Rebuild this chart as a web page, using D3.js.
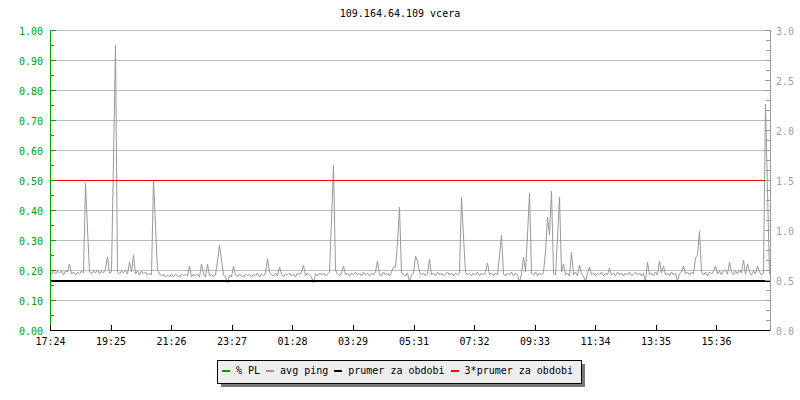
<!DOCTYPE html>
<html><head><meta charset="utf-8">
<script src="https://cdn.jsdelivr.net/npm/d3@7"></script>
<style>
body{margin:0;background:#fff}
svg{display:block}
text{font-family:"DejaVu Sans Mono","Liberation Mono",monospace;font-size:10px}
</style>
</head><body>
<svg id="chart" width="800" height="400"></svg>
<script>
const title = "109.164.64.109 vcera";
const tickLabels = ["17:24","19:25","21:26","23:27","01:28","03:29","05:31","07:32","09:33","11:34","13:35","15:36"];
const tickMinutes = [0,121,242,363,484,605,727,848,969,1090,1211,1332];
const spanMinutes = 1440;
const sampleMinutes = 4;
const leftTicks = [0,0.1,0.2,0.3,0.4,0.5,0.6,0.7,0.8,0.9,1.0];
const rightTicks = [0,0.5,1.0,1.5,2.0,2.5,3.0];
// avg ping (right axis), one sample every 4 minutes
const avgPing = [
0.56,0.59,0.56,0.59,0.57,0.59,0.55,0.59,0.58,0.66, 0.56,0.58,0.55,0.58,0.56,0.59,0.57,1.47,1.01,0.58,
0.56,0.59,0.57,0.60,0.56,0.59,0.57,0.61,0.73,0.57, 0.58,1.71,2.85,0.58,0.56,0.59,0.57,0.60,0.56,0.68,
0.58,0.75,0.56,0.59,0.55,0.59,0.56,0.58,0.55,0.57, 0.55,1.50,1.04,0.60,0.56,0.54,0.56,0.53,0.55,0.53,
0.56,0.53,0.56,0.54,0.53,0.56,0.54,0.56,0.54,0.64, 0.53,0.56,0.54,0.56,0.53,0.66,0.56,0.53,0.66,0.54,
0.56,0.53,0.55,0.69,0.85,0.70,0.55,0.53,0.47,0.55, 0.53,0.64,0.55,0.53,0.56,0.54,0.53,0.56,0.54,0.56,
0.53,0.56,0.54,0.57,0.53,0.56,0.54,0.57,0.71,0.58, 0.55,0.54,0.57,0.54,0.63,0.56,0.53,0.56,0.55,0.57,
0.54,0.56,0.53,0.57,0.55,0.58,0.65,0.54,0.57,0.55, 0.53,0.47,0.56,0.54,0.57,0.55,0.57,0.54,0.56,0.58,
1.09,1.65,0.60,0.56,0.54,0.57,0.64,0.55,0.57,0.54, 0.57,0.55,0.58,0.55,0.57,0.54,0.58,0.55,0.57,0.54,
0.57,0.55,0.58,0.69,0.56,0.54,0.58,0.55,0.57,0.54, 0.58,0.63,0.63,0.87,1.23,0.57,0.55,0.54,0.57,0.48,
0.55,0.57,0.74,0.69,0.58,0.55,0.57,0.54,0.56,0.71, 0.55,0.57,0.54,0.58,0.55,0.57,0.54,0.56,0.58,0.55,
0.57,0.54,0.57,0.55,0.57,1.33,0.93,0.58,0.55,0.57, 0.54,0.57,0.55,0.58,0.54,0.57,0.55,0.58,0.67,0.55,
0.57,0.54,0.57,0.55,0.74,0.95,0.56,0.54,0.57,0.55, 0.58,0.54,0.57,0.55,0.48,0.56,0.73,0.58,0.95,1.37,
0.57,0.55,0.58,0.54,0.57,0.55,0.58,0.78,1.13,0.95, 1.39,0.57,0.55,0.93,1.33,0.58,0.66,0.55,0.57,0.54,
0.78,0.55,0.58,0.54,0.65,0.56,0.54,0.48,0.57,0.63, 0.55,0.57,0.54,0.57,0.55,0.58,0.54,0.57,0.55,0.62,
0.55,0.57,0.54,0.58,0.55,0.57,0.54,0.57,0.55,0.58, 0.54,0.56,0.58,0.55,0.57,0.54,0.57,0.48,0.68,0.55,
0.57,0.54,0.58,0.55,0.69,0.57,0.64,0.55,0.57,0.54, 0.58,0.55,0.57,0.49,0.56,0.58,0.64,0.56,0.58,0.55,
0.58,0.56,0.72,0.75,0.99,0.58,0.55,0.58,0.54,0.58, 0.56,0.59,0.64,0.56,0.59,0.55,0.59,0.60,0.56,0.68,
0.58,0.55,0.59,0.56,0.60,0.57,0.70,0.56,0.66,0.58, 0.55,0.59,0.56,0.64,0.58,0.55,0.57,2.26,1.39,0.56
];
const plMinutes = [0, 1440];
const plValues = [0, 0];
const meanPing = 0.5;
const legendLabels = ["% PL","avg ping","prumer za obdobi","3*prumer za obdobi"];
const legendColors = ["#00a000","#999999","#000000","#ff0000"];

const svg = d3.select("#chart");
const x = d3.scaleLinear().domain([0, spanMinutes]).range([50, 770]);
const yL = d3.scaleLinear().domain([0, 1]).range([330, 30]);
const yR = d3.scaleLinear().domain([0, 3]).range([330, 30]);
const px = v => Math.round(v) + 0.5;

// title
svg.append("text").attr("x", 400).attr("y", 17).attr("text-anchor", "middle")
  .attr("fill", "#000").text(title);

// grid
svg.append("g").selectAll("line").data(leftTicks.filter(d => d > 0)).join("line")
  .attr("x1", x(0)).attr("x2", x(spanMinutes))
  .attr("y1", d => px(yL(d))).attr("y2", d => px(yL(d)))
  .attr("stroke", "#bbbbbb").attr("stroke-width", 1).attr("shape-rendering", "crispEdges");

// PL series (zero)
svg.append("path")
  .datum(plMinutes.map((m, i) => [m, plValues[i]]))
  .attr("d", d3.line().x(d => x(d[0])).y(d => px(yL(d[1]))))
  .attr("fill", "none").attr("stroke", legendColors[0]).attr("shape-rendering", "crispEdges");

// avg ping line
const pts = avgPing.map((v, i) => [i * sampleMinutes + sampleMinutes / 2, v]);
pts.unshift([0, avgPing[0]]);
pts.push([spanMinutes, avgPing[avgPing.length - 1]]);
svg.append("path")
  .datum(pts)
  .attr("d", d3.line().x(d => Math.round(x(d[0])) + 0.5).y(d => yR(d[1])))
  .attr("fill", "none").attr("stroke", legendColors[1]).attr("stroke-width", 1);

// mean line
svg.append("line")
  .attr("x1", x(0)).attr("x2", x(spanMinutes))
  .attr("y1", yR(meanPing) + 1).attr("y2", yR(meanPing) + 1)
  .attr("stroke", legendColors[2]).attr("stroke-width", 2).attr("shape-rendering", "crispEdges");

// 3*mean line
svg.append("line")
  .attr("x1", x(0)).attr("x2", x(spanMinutes))
  .attr("y1", px(yR(3 * meanPing))).attr("y2", px(yR(3 * meanPing)))
  .attr("stroke", legendColors[3]).attr("stroke-width", 1).attr("shape-rendering", "crispEdges");

// left axis (green)
const gL = svg.append("g").attr("shape-rendering", "crispEdges");
gL.append("line").attr("x1", 50.5).attr("x2", 50.5).attr("y1", yL(1)).attr("y2", yL(0) + 1)
  .attr("stroke", "#00a000");
const minorL = d3.range(0, 21).map(i => i * 0.05);
gL.selectAll("line.t").data(minorL).join("line").attr("class", "t")
  .attr("x1", 50).attr("x2", (d, i) => i % 2 === 0 ? 56 : 54)
  .attr("y1", d => px(yL(d))).attr("y2", d => px(yL(d)))
  .attr("stroke", "#00a000");
gL.selectAll("text").data(leftTicks).join("text")
  .attr("x", 43).attr("y", d => yL(d) + 5).attr("text-anchor", "end")
  .attr("fill", "#00a000").text(d => d.toFixed(2));

// right axis (gray)
const gR = svg.append("g").attr("shape-rendering", "crispEdges");
gR.append("line").attr("x1", 770.5).attr("x2", 770.5).attr("y1", yR(3)).attr("y2", yR(0) + 1)
  .attr("stroke", "#999999");
const minorR = d3.range(0, 31).map(i => i * 0.1);
gR.selectAll("line.t").data(minorR).join("line").attr("class", "t")
  .attr("x1", (d, i) => i % 5 === 0 ? 765 : 766).attr("x2", 771)
  .attr("y1", d => px(yR(d))).attr("y2", d => px(yR(d)))
  .attr("stroke", "#999999");
gR.selectAll("text").data(rightTicks).join("text")
  .attr("x", 776).attr("y", d => yR(d) + 5)
  .attr("fill", "#a0a0a0").text(d => d.toFixed(1));

// x axis
const gX = svg.append("g").attr("shape-rendering", "crispEdges");
gX.append("line").attr("x1", x(0)).attr("x2", x(spanMinutes)).attr("y1", 330.5).attr("y2", 330.5)
  .attr("stroke", "#000");
gX.selectAll("line.t").data(tickMinutes).join("line").attr("class", "t")
  .attr("x1", d => px(x(d))).attr("x2", d => px(x(d))).attr("y1", 325).attr("y2", 331)
  .attr("stroke", "#000");
gX.selectAll("text").data(tickMinutes).join("text")
  .attr("x", d => x(d) + 0.5).attr("y", 345).attr("text-anchor", "middle")
  .attr("fill", "#000").text((d, i) => tickLabels[i]);

// legend
const lg = svg.append("g");
lg.append("rect").attr("x", 221).attr("y", 364).attr("width", 364).attr("height", 23)
  .attr("fill", "#777777").attr("shape-rendering", "crispEdges");
lg.append("rect").attr("x", 217.5).attr("y", 360.5).attr("width", 364).attr("height", 23)
  .attr("fill", "#eeeeee").attr("stroke", "#000").attr("shape-rendering", "crispEdges");
let cx = 222;
legendLabels.forEach((lab, i) => {
  lg.append("rect").attr("x", cx).attr("y", 370).attr("width", 8).attr("height", 2)
    .attr("fill", legendColors[i]).attr("shape-rendering", "crispEdges");
  const t = lg.append("text").attr("x", cx + 14).attr("y", 374).attr("fill", "#000").text(lab);
  cx = cx + 14 + t.node().getComputedTextLength() + 6;
});
</script>
</body></html>
